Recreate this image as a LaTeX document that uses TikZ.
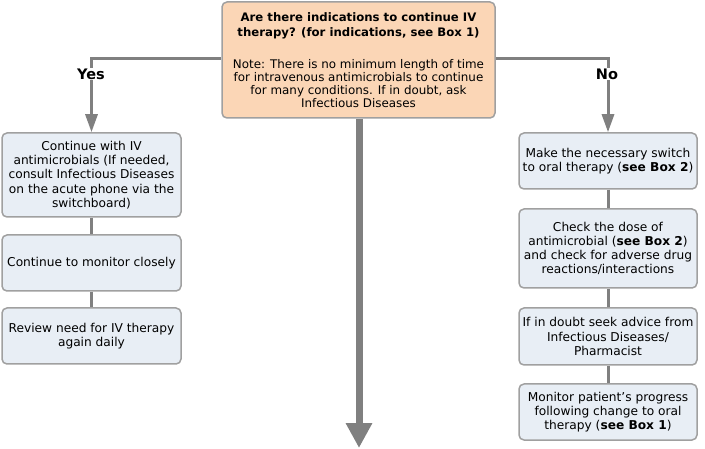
\documentclass[tikz,border=0pt]{standalone}
\usepackage{fontspec}
\setmainfont{DejaVu Sans}
\usetikzlibrary{arrows.meta}
\definecolor{peach}{RGB}{251,214,182}
\definecolor{boxfill}{RGB}{232,238,245}
\definecolor{edge}{RGB}{160,160,160}
\definecolor{conn}{RGB}{128,128,128}
\begin{document}
\begin{tikzpicture}[x=1pt,y=-1pt,
  box/.style={draw=edge,line width=1.5pt,rounded corners=5pt,fill=boxfill,align=center,inner sep=0pt,
     font=\fontsize{12.2}{14.2}\selectfont},
  topbox/.style={box,fill=peach,font=\fontsize{11.9}{13}\selectfont},
  link/.style={draw=conn,line width=3pt},
  yesno/.style={draw=conn,line width=3pt,-{Triangle[length=18pt,width=12pt]}},
  lab/.style={font=\fontsize{14.5}{16}\selectfont\bfseries,fill=white,inner sep=1pt}]
\useasboundingbox (0,0) rectangle (705,449);
\node[topbox,minimum width=273pt,minimum height=116pt] (top) at (358.5,60)
  {{\fontsize{11.7}{13}\selectfont\bfseries Are there indications to continue IV}\\[2pt]
   {\fontsize{11.7}{13}\selectfont\bfseries therapy? (for indications, see Box 1)}\\[19pt]
   Note: There is no minimum length of time\\for intravenous antimicrobials to continue\\for many conditions. If in doubt, ask\\Infectious Diseases};
\node[box,minimum width=179pt,minimum height=84pt] (l1) at (91.5,175)
  {Continue with IV\\antimicrobials (If needed,\\consult Infectious Diseases\\on the acute phone via the\\switchboard)};
\node[box,minimum width=179pt,minimum height=56pt] (l2) at (91.5,263) {Continue to monitor closely};
\node[box,minimum width=179pt,minimum height=56pt] (l3) at (91.5,336) {Review need for IV therapy\\again daily};
\node[box,minimum width=178pt,minimum height=56pt] (r1) at (608,161) {Make the necessary switch\\to oral therapy (\textbf{see Box 2})};
\node[box,minimum width=178pt,minimum height=79pt] (r2) at (608,248.5) {Check the dose of\\antimicrobial (\textbf{see Box 2})\\and check for adverse drug\\reactions/interactions};
\node[box,minimum width=178pt,minimum height=57pt] (r3) at (608,336.5) {If in doubt seek advice from\\Infectious Diseases/\\Pharmacist};
\node[box,minimum width=178pt,minimum height=56pt] (r4) at (608,412) {Monitor patient’s progress\\following change to oral\\therapy (\textbf{see Box 1})};
\coordinate (bottom) at (359,448);
\draw[yesno] (top.west |- 0,59) -| (l1.north);
\draw[yesno] (top.east |- 0,59) -| (r1.north);
\node[lab] (yes) at (91,74) {Yes};
\node[lab] (no) at (607,74) {No};
\draw[draw=conn,line width=7pt,-{Triangle[length=25pt,width=25pt]}] (top.south -| bottom) -- (bottom);
\draw[link] (l1) -- (l2);
\draw[link] (l2) -- (l3);
\draw[link] (r1) -- (r2);
\draw[link] (r2) -- (r3);
\draw[link] (r3) -- (r4);
\end{tikzpicture}
\end{document}
